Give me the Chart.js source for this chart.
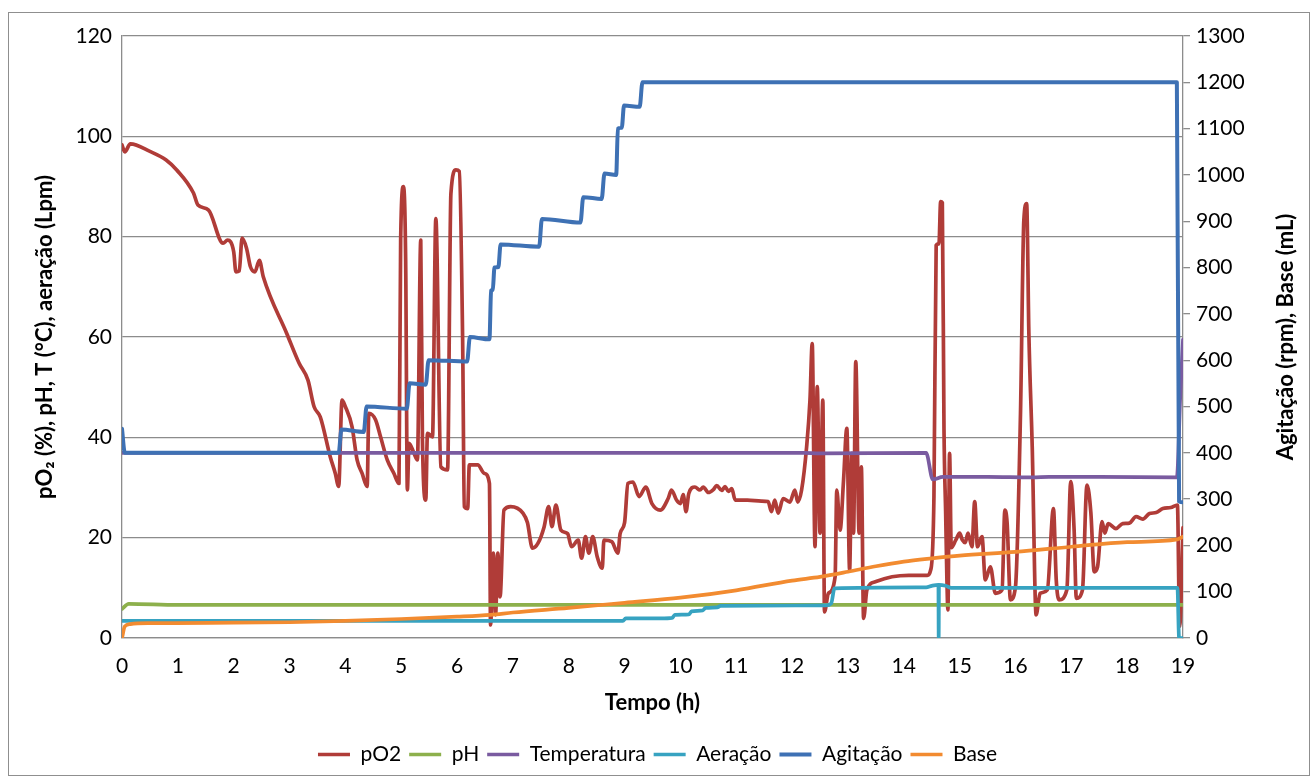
<!DOCTYPE html>
<html lang="pt">
<head>
<meta charset="utf-8">
<title>Cultivo - pO2, pH, temperatura, aeração, agitação e base</title>
<script src="https://cdn.jsdelivr.net/npm/chart.js@4.4.1/dist/chart.umd.min.js"></script>
<style>
  html, body { margin: 0; padding: 0; background: #fff; }
  #wrap { width: 1315px; height: 778px; }
</style>
</head>
<body>
<div id="wrap"><canvas id="grafico" width="1315" height="778"></canvas></div>
<script>
// Tempo (h) e valores de cada série
const tPO2 = [0, 0.05, 0.15, 0.5, 0.79, 0.98, 1.28, 1.36, 1.55, 1.81, 1.89, 2.0, 2.04, 2.1, 2.15, 2.23, 2.3, 2.38, 2.46, 2.53,
  2.95, 3.17, 3.33, 3.44, 3.55, 3.73, 3.82, 3.88, 3.94, 4.0, 4.12, 4.21, 4.3, 4.39, 4.42, 4.54, 4.63, 4.75, 4.87, 4.96,
  4.99, 5.04, 5.08, 5.11, 5.14, 5.23, 5.29, 5.35, 5.38, 5.44, 5.47, 5.56, 5.62, 5.71, 5.83, 5.89, 5.98, 6.04, 6.1, 6.13,
  6.19, 6.22, 6.37, 6.49, 6.58, 6.6, 6.65, 6.69, 6.73, 6.77, 6.84, 6.96, 7.18, 7.26, 7.35, 7.45, 7.56, 7.64, 7.7, 7.77,
  7.86, 7.98, 8.05, 8.17, 8.23, 8.3, 8.36, 8.43, 8.51, 8.6, 8.63, 8.77, 8.88, 8.92, 9.0, 9.06, 9.15, 9.26, 9.38, 9.49,
  9.64, 9.78, 9.84, 9.93, 10.0, 10.05, 10.1, 10.15, 10.26, 10.35, 10.41, 10.5, 10.59, 10.65, 10.74, 10.8, 10.86, 10.92, 10.98, 11.2,
  11.45, 11.57, 11.63, 11.69, 11.75, 11.84, 11.96, 12.05, 12.1, 12.17, 12.26, 12.32, 12.36, 12.41, 12.45, 12.5, 12.55, 12.58, 12.65, 12.77,
  12.8, 12.86, 12.92, 12.98, 13.03, 13.07, 13.1, 13.14, 13.2, 13.24, 13.28, 13.34, 13.49, 13.79, 14.09, 14.42, 14.48, 14.54, 14.58, 14.63,
  14.66, 14.69, 14.72, 14.75, 14.77, 14.79, 14.82, 14.85, 14.93, 15.0, 15.05, 15.1, 15.15, 15.22, 15.27, 15.32, 15.4, 15.46, 15.55, 15.64,
  15.76, 15.81, 15.85, 15.91, 16.0, 16.09, 16.15, 16.2, 16.24, 16.3, 16.37, 16.44, 16.57, 16.68, 16.73, 16.78, 16.92, 16.99, 17.05, 17.09,
  17.2, 17.28, 17.35, 17.41, 17.47, 17.55, 17.6, 17.66, 17.8, 17.92, 18.04, 18.16, 18.28, 18.4, 18.52, 18.64, 18.78, 18.9, 18.94, 19.0];
const pO2 = [98.3, 96.9, 98.5, 97.0, 95.3, 93.3, 88.7, 86.3, 85.3, 78.7, 79.3, 77.0, 73.0, 73.2, 79.7, 77.7, 74.0, 73.0, 75.3, 72.0,
  60.7, 54.8, 51.4, 46.1, 44.1, 36.1, 32.8, 30.2, 47.4, 46.1, 42.1, 35.5, 32.8, 30.2, 44.8, 43.5, 40.1, 35.5, 32.8, 30.8,
  79.3, 90.0, 75.0, 29.5, 38.8, 36.8, 35.5, 79.3, 39.4, 27.5, 40.8, 40.1, 83.6, 34.1, 33.5, 88.6, 93.3, 93.0, 59.4, 26.2,
  25.8, 34.5, 34.5, 32.8, 30.8, 2.6, 16.9, 4.6, 16.9, 8.2, 25.5, 26.2, 24.9, 23.0, 17.9, 18.9, 22.2, 26.2, 22.2, 26.5,
  21.5, 20.8, 18.2, 19.5, 15.9, 20.2, 16.9, 20.2, 16.2, 13.9, 19.5, 19.2, 16.9, 20.8, 23.0, 30.8, 31.1, 28.2, 30.1, 26.8,
  25.5, 27.8, 29.5, 27.5, 26.8, 28.6, 25.2, 28.8, 30.1, 29.5, 30.1, 29.0, 29.6, 30.4, 29.4, 30.2, 29.2, 29.8, 27.5, 27.5,
  27.3, 27.2, 25.2, 27.5, 24.9, 27.8, 27.1, 29.5, 27.1, 29.5, 38.1, 47.4, 58.7, 18.2, 50.1, 20.9, 47.4, 5.2, 8.9, 12.2,
  29.5, 21.5, 31.2, 41.8, 13.6, 36.8, 20.9, 55.1, 20.9, 34.1, 3.9, 9.6, 11.2, 12.2, 12.5, 12.5, 13.5, 28.2, 78.3, 78.6,
  87.0, 86.8, 41.5, 24.8, 12.8, 5.6, 36.8, 18.0, 19.5, 20.9, 19.5, 19.0, 20.9, 18.2, 27.2, 18.2, 20.2, 11.6, 14.2, 8.9,
  9.6, 25.5, 23.0, 7.6, 10.2, 44.8, 83.3, 86.6, 60.7, 38.1, 4.6, 8.9, 9.6, 25.8, 11.6, 7.6, 9.6, 31.2, 21.6, 7.9,
  9.6, 30.5, 25.0, 13.2, 14.2, 23.2, 20.9, 22.8, 21.8, 22.8, 22.9, 24.2, 23.7, 24.8, 25.0, 25.8, 26.0, 26.5, 2.3, 22.0];

const tPH = [0, 0.12, 1, 10, 19];
const pH = [5.8, 6.8, 6.6, 6.6, 6.6];

const tTemp = [0, 6, 12.2, 12.5, 14.4, 14.52, 14.7, 15.5, 16.3, 16.6, 17.5, 18.89, 18.95, 19.0];
const temperatura = [36.9, 36.9, 36.9, 36.8, 36.9, 31.6, 32.1, 32.1, 32.0, 32.1, 32.1, 32.0, 48.0, 59.5];

const tAer = [0, 8.97, 9.02, 9.65, 9.85, 9.9, 10.15, 10.2, 10.4, 10.45, 10.66, 10.72, 12.6, 12.7, 12.76,
  14.4, 14.5, 14.62, 14.625, 14.63, 14.75, 14.85, 18.9, 18.93, 19.0];
const aeracao = [3.4, 3.4, 3.9, 3.9, 4.0, 4.6, 4.7, 5.3, 5.5, 6.0, 6.1, 6.4, 6.5, 6.9, 9.9,
  10.1, 10.4, 10.6, 0, 10.6, 10.4, 10.0, 10.0, 0, 0];

const tAgit = [0, 0.05, 3.88, 3.93, 4.33, 4.38, 5.1, 5.15, 5.44, 5.49, 6.18, 6.23, 6.58, 6.61, 6.64, 6.67, 6.74, 6.78,
  7.47, 7.52, 8.21, 8.26, 8.59, 8.64, 8.85, 8.88, 8.95, 8.99, 9.27, 9.32, 18.89, 18.93, 19.0];
const agitacao = [452, 400, 400, 450, 445, 500, 495, 550, 547, 600, 597, 650, 645, 750, 752, 800, 801, 850,
  845, 905, 897, 952, 948, 1003, 1000, 1100, 1102, 1150, 1147, 1200, 1200, 295, 293];

const tBase = [0, 0.05, 0.15, 0.5, 2, 3, 4, 5, 6, 6.6, 7, 8, 9, 10, 11, 12, 12.5, 13, 13.5, 14, 14.5, 15, 16, 17, 18, 18.9, 19];
const base = [0, 25, 30, 32, 33, 34, 37, 41, 46, 50, 55, 65, 76, 87, 103, 124, 132, 143, 155, 165, 172, 178, 186, 197, 207, 213, 219];

const xTicks = [0, 19, 1];     // min, max, passo
const yEsq = [0, 120, 20];
const yDir = [0, 1300, 100];

function pontos(t, v) {
  return t.map((x, i) => ({ x: x, y: v[i] }));
}

function serie(label, t, v, cor, eixo, ordem, largura) {
  return {
    label: label,
    data: pontos(t, v),
    borderColor: cor,
    backgroundColor: cor,
    borderWidth: largura || 3.7,
    pointRadius: 0,
    pointHoverRadius: 0,
    fill: false,
    cubicInterpolationMode: 'monotone',
    borderJoinStyle: 'round',
    borderCapStyle: 'round',
    yAxisID: eixo,
    order: ordem
  };
}

const fonte = 'Lato, "Open Sans", sans-serif';

// moldura externa e título do eixo direito (lido de baixo para cima)
const extras = {
  id: 'extras',
  afterDraw(chart) {
    const ctx = chart.ctx;
    ctx.save();
    ctx.strokeStyle = '#8f8f8f';
    ctx.lineWidth = 1;
    ctx.strokeRect(8.5, 12.5, 1301, 763);
    const a = chart.chartArea;
    ctx.translate(1286, (a.top + a.bottom) / 2);
    ctx.rotate(-Math.PI / 2);
    ctx.font = 'bold 22px ' + fonte;
    ctx.fillStyle = '#000';
    ctx.textAlign = 'center';
    ctx.textBaseline = 'middle';
    ctx.fillText('Agitação (rpm), Base (mL)', 0, 0);
    ctx.restore();
  }
};

const ctx = document.getElementById('grafico').getContext('2d');
const grafico = new Chart(ctx, {
  type: 'line',
  data: {
    datasets: [
      serie('pO2', tPO2, pO2, '#B03C38', 'y', 6),
      serie('pH', tPH, pH, '#8DB04C', 'y', 5),
      serie('Temperatura', tTemp, temperatura, '#7A5BA0', 'y', 4),
      serie('Aeração', tAer, aeracao, '#37A3C1', 'y', 3),
      serie('Agitação', tAgit, agitacao, '#3E71B4', 'y1', 2, 4),
      serie('Base', tBase, base, '#F28B30', 'y1', 1)
    ]
  },
  options: {
    responsive: false,
    animation: false,
    layout: { padding: { top: 36, left: 0, right: 0, bottom: 3 } },
    plugins: {
      tooltip: { enabled: false },
      legend: {
        position: 'bottom',
        labels: {
          usePointStyle: true,
          pointStyle: 'line',
          pointStyleWidth: 32,
          padding: 8,
          color: '#000',
          font: { family: fonte, size: 21 },
          sort: (a, b) => a.datasetIndex - b.datasetIndex
        }
      }
    },
    scales: {
      x: {
        type: 'linear',
        min: xTicks[0],
        max: xTicks[1],
        afterFit: (s) => { s.height = 98; },
        ticks: { stepSize: xTicks[2], padding: 16, color: '#000', font: { family: fonte, size: 21 } },
        grid: { display: false, drawTicks: false },
        border: { display: true, color: '#8c8c8c', width: 1.3 },
        title: {
          display: true,
          text: 'Tempo (h)',
          color: '#000',
          font: { family: fonte, size: 22, weight: 'bold' },
          padding: { top: 0, bottom: 20 }
        }
      },
      y: {
        position: 'left',
        min: yEsq[0],
        max: yEsq[1],
        afterFit: (s) => { s.width = 122; },
        ticks: { stepSize: yEsq[2], padding: 10, color: '#000', font: { family: fonte, size: 21 } },
        grid: { color: '#8c8c8c', lineWidth: 1.3, drawTicks: false },
        border: { display: true, color: '#8c8c8c', width: 1.3 },
        title: {
          display: true,
          text: 'pO₂ (%), pH, T (°C), aeração (Lpm)',
          color: '#000',
          font: { family: fonte, size: 22, weight: 'bold' },
          padding: { top: 32, bottom: 0 }
        }
      },
      y1: {
        position: 'right',
        min: yDir[0],
        max: yDir[1],
        afterFit: (s) => { s.width = 132; },
        ticks: {
          stepSize: yDir[2], padding: 6, color: '#000', font: { family: fonte, size: 21 },
          format: { useGrouping: false }
        },
        grid: { drawOnChartArea: false, drawTicks: true, tickLength: 7, color: '#8c8c8c', lineWidth: 1.3 },
        border: { display: true, color: '#8c8c8c', width: 1.3 }
      }
    }
  },
  plugins: [extras]
});
</script>
</body>
</html>
